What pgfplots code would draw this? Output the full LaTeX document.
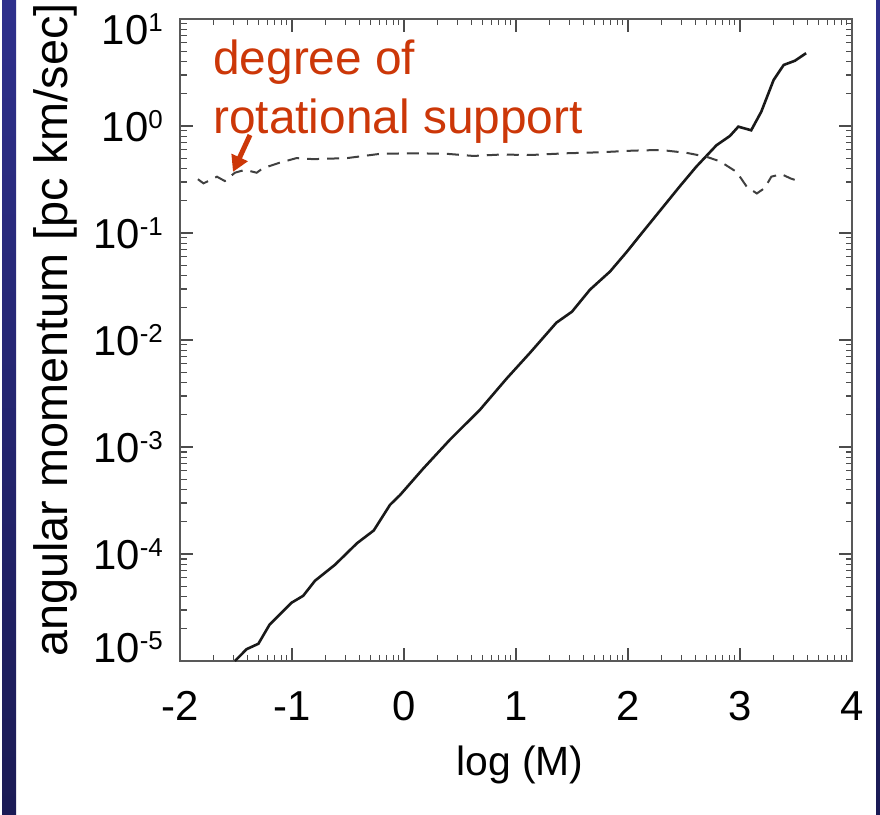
\documentclass[border=0pt]{standalone}
\usepackage{pgfplots}
\pgfplotsset{compat=1.18}
\usepackage{fontspec}
\setmainfont{Liberation Sans}
\usetikzlibrary{arrows.meta}
\definecolor{annred}{RGB}{204,55,8}
\definecolor{slidetop}{RGB}{46,48,140}
\definecolor{slidebot}{RGB}{27,27,85}
\pgfplotstableread{
lx J
-1.51 1.00e-5
-1.405 1.29e-5
-1.30 1.45e-5
-1.20 2.19e-5
-1.003 3.51e-5
-0.90 4.07e-5
-0.795 5.62e-5
-0.616 7.94e-5
-0.42 1.26e-4
-0.27 1.66e-4
-0.125 2.88e-4
-0.036 3.55e-4
0.173 6.31e-4
0.41 1.17e-3
0.68 2.24e-3
0.917 4.37e-3
1.125 7.59e-3
1.36 1.45e-2
1.50 1.84e-2
1.66 2.95e-2
1.84 4.37e-2
1.99 6.68e-2
2.107 0.095
2.46 0.271
2.61 0.417
2.79 0.661
2.91 0.807
2.985 0.986
3.10 0.912
3.19 1.36
3.30 2.69
3.39 3.72
3.49 4.07
3.59 4.79
}\angmom
\pgfplotstableread{
lx R
-1.84 0.318
-1.79 0.291
-1.67 0.336
-1.60 0.306
-1.51 0.366
-1.42 0.389
-1.315 0.366
-1.26 0.403
-1.11 0.454
-0.96 0.501
-0.81 0.490
-0.51 0.501
-0.21 0.550
0.08 0.556
0.38 0.550
0.62 0.525
0.85 0.540
1.15 0.537
1.45 0.556
1.75 0.568
2.05 0.589
2.29 0.597
2.52 0.562
2.70 0.516
2.82 0.468
2.97 0.372
3.06 0.271
3.15 0.234
3.22 0.263
3.28 0.336
3.37 0.355
3.45 0.324
3.52 0.306
}\rotsup
\begin{document}
\begin{tikzpicture}
\useasboundingbox (0,0) rectangle (880bp,815bp);
\fill[white] (0,0) rectangle (880bp,815bp);
\shade[top color=slidetop, bottom color=slidebot] (2bp,0) rectangle (16bp,815bp);
\shade[top color=slidetop, bottom color=slidebot] (876bp,0) rectangle (880bp,815bp);
\begin{axis}[
  at={(180bp,154bp)}, anchor=south west,
  scale only axis, width=672bp, height=642bp,
  xmin=-2, xmax=4, ymode=log, ymin=1e-5, ymax=10,
  axis line style={line width=1.4bp, black!65},
  every tick/.style={line width=1.2bp, black!70},
  major tick length=13bp, minor tick length=6.5bp,
  tick align=inside,
  xtick={-2,-1,0,1,2,3,4},
  xticklabels={-2,-1,0,1,2,3,4},
  minor xtick={-1.69897,-1.52288,-1.39794,-1.30103,-1.22185,-1.15490,-1.09691,-1.04576,
    -0.69897,-0.52288,-0.39794,-0.30103,-0.22185,-0.15490,-0.09691,-0.04576,
    0.30103,0.47712,0.60206,0.69897,0.77815,0.84510,0.90309,0.95424,
    1.30103,1.47712,1.60206,1.69897,1.77815,1.84510,1.90309,1.95424,
    2.30103,2.47712,2.60206,2.69897,2.77815,2.84510,2.90309,2.95424,
    3.30103,3.47712,3.60206,3.69897,3.77815,3.84510,3.90309,3.95424},
  ytick={1e-5,1e-4,1e-3,1e-2,1e-1,1,10},
  yticklabels={\raisebox{14bp}{10\raisebox{13bp}{\fontsize{26}{26}\selectfont -5}},
    10\raisebox{13bp}{\fontsize{26}{26}\selectfont -4},
    10\raisebox{13bp}{\fontsize{26}{26}\selectfont -3},
    10\raisebox{13bp}{\fontsize{26}{26}\selectfont -2},
    10\raisebox{13bp}{\fontsize{26}{26}\selectfont -1},
    10\raisebox{13bp}{\fontsize{26}{26}\selectfont 0},
    \raisebox{-11bp}{10\raisebox{13bp}{\fontsize{26}{26}\selectfont 1}}},
  minor ytick={2e-5,3e-5,4e-5,5e-5,6e-5,7e-5,8e-5,9e-5,
    2e-4,3e-4,4e-4,5e-4,6e-4,7e-4,8e-4,9e-4,
    2e-3,3e-3,4e-3,5e-3,6e-3,7e-3,8e-3,9e-3,
    2e-2,3e-2,4e-2,5e-2,6e-2,7e-2,8e-2,9e-2,
    0.2,0.3,0.4,0.5,0.6,0.7,0.8,0.9,
    2,3,4,5,6,7,8,9},
  /pgf/number format/assume math mode=true,
  xticklabel style={font=\fontsize{42}{42}\selectfont, inner sep=0pt, anchor=base, yshift=-59bp, text=black},
  yticklabel style={font=\fontsize{42}{42}\selectfont, inner sep=0pt, anchor=base east, xshift=-17bp, yshift=-15bp, text=black},
  xlabel={log (M)},
  ylabel={angular momentum [pc km/sec]},
  xlabel style={at={(axis description cs:0.506,-0.1776)}, anchor=base, inner sep=0pt, font=\fontsize{41}{41}\selectfont},
  ylabel style={at={(axis description cs:-0.1667,0.5156)}, anchor=base, rotate=0, inner sep=0pt, font=\fontsize{47}{47}\selectfont},
]
\addplot[line width=2.6bp, black!90] table[x=lx, y=J] {\angmom};
\addplot[line width=2bp, black!75, dash pattern=on 12bp off 8bp] table[x=lx, y=R] {\rotsup};
\node[anchor=base west, inner sep=0pt, text=annred, font=\fontsize{48}{48}\selectfont] at (axis cs:-1.705,3.06) {degree of};
\node[anchor=base west, inner sep=0pt, text=annred, font=\fontsize{48}{48}\selectfont] at (axis cs:-1.705,0.842) {rotational support};
\draw[annred, line width=5bp, -{Triangle[length=16bp,width=17bp]}] (axis cs:-1.375,0.824) -- (axis cs:-1.527,0.372);
\end{axis}
\end{tikzpicture}
\end{document}
